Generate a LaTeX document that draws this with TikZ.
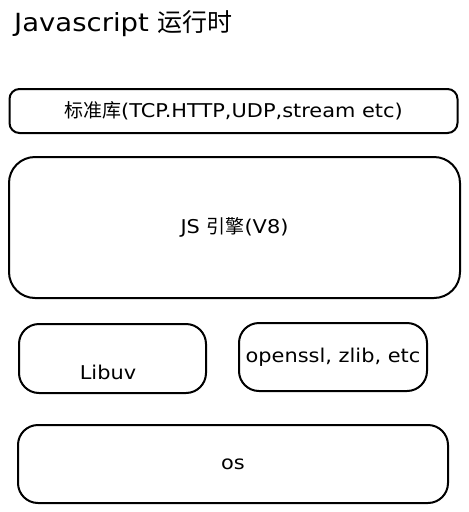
\documentclass[tikz,border=0pt]{standalone}
\usepackage{fontspec}
\setmainfont{DejaVu Sans}[FakeStretch=1.1]
\newfontfamily\cjk{Noto Sans CJK SC}
\usetikzlibrary{positioning}

\tikzset{
    layer/.style={draw, line width=2pt, rounded corners=#1, inner sep=0pt},
    layer/.default=20pt,
    lbl/.style={font=\fontsize{19}{22}\selectfont}
}

\begin{document}
\begin{tikzpicture}[x=1pt, y=-1pt]
        \useasboundingbox (0,0) rectangle (469,512);

        \node[anchor=west, inner sep=0pt, font=\fontsize{25}{28}\selectfont] (title) at (14,24) {Javascript \cjk 运行时};

        \node[layer=10pt, minimum width=448pt, minimum height=44pt, lbl] (stdlib) at (233.5,111)
            {{\cjk 标准库}(TCP.HTTP,UDP,stream etc)};

        \node[layer=26pt, minimum width=451pt, minimum height=141pt, lbl] (engine) at (234.5,227.5)
            {JS {\cjk 引擎}(V8)};

        \node[layer, minimum width=187pt, minimum height=69pt] (libuv) at (112.5,358.5) {};
        \node[lbl] (libuvtext) at (108,372) {Libuv};

        \node[layer, minimum width=188pt, minimum height=68pt, lbl] (libs) at (333,357)
            {openssl, zlib, etc};

        \node[layer, minimum width=430pt, minimum height=78pt, lbl] (os) at (233,464) {os};
    \end{tikzpicture}
\end{document}
